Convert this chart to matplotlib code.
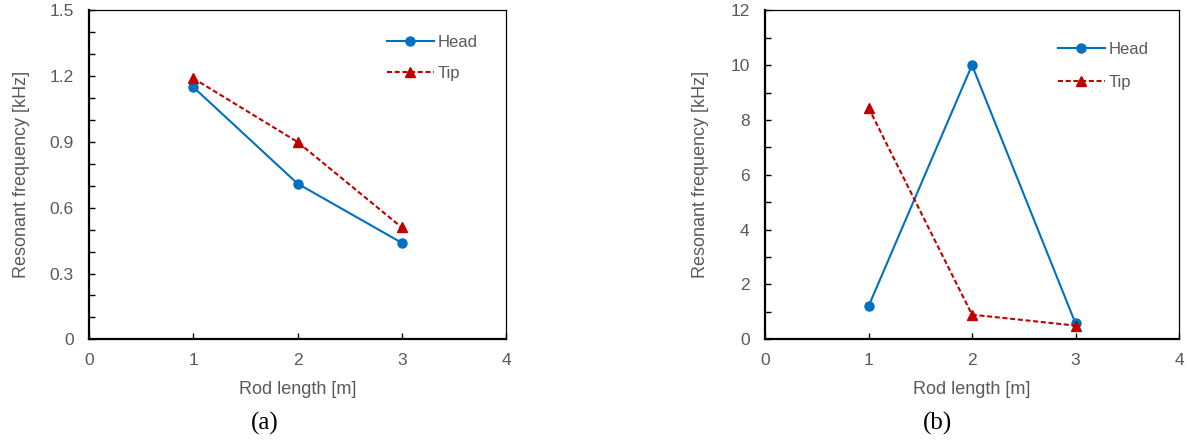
import matplotlib.pyplot as plt
from matplotlib.ticker import MultipleLocator

# Rod lengths [m]
rod_length = [1, 2, 3]

# (a) resonant frequencies [kHz]
head_a = [1.15, 0.71, 0.44]
tip_a = [1.19, 0.90, 0.51]

# (b) resonant frequencies [kHz]
head_b = [1.2, 10.0, 0.58]
tip_b = [8.45, 0.9, 0.5]

blue = "#0070C0"
red = "#C00000"
grey = "#595959"

plt.rcParams["font.family"] = ["Liberation Sans", "DejaVu Sans"]

W, H = 1188, 441
fig = plt.figure(figsize=(W / 100, H / 100), dpi=100)


def px_axes(left, right, top, bottom):
    return fig.add_axes([left / W, 1 - bottom / H, (right - left) / W, (bottom - top) / H])


def setup(ax, head, tip, ymax, ystep, yminor, fmt, leg_xy, spacing, ylab_pad, tag, tag_x):
    ax.plot(rod_length, head, color=blue, lw=1.5, marker="o", ms=6.5, label="Head")
    ax.plot(rod_length, tip, color=red, lw=1.5, ls=(0, (2.4, 1.3)), marker="^", ms=7,
            label="Tip")
    ax.set_xlim(0, 4)
    ax.set_ylim(0, ymax)
    ax.xaxis.set_major_locator(MultipleLocator(1))
    ax.yaxis.set_major_locator(MultipleLocator(ystep))
    ax.yaxis.set_minor_locator(MultipleLocator(yminor))
    ax.yaxis.set_major_formatter(plt.FuncFormatter(lambda v, p: fmt(v)))
    ax.tick_params(axis="both", which="both", direction="in", length=4, width=1,
                   colors="black", labelcolor=grey, labelsize=12.5)
    ax.tick_params(axis="x", which="both", top=False, pad=10)
    ax.tick_params(axis="y", which="both", right=False, pad=11)
    for side in ("left", "bottom"):
        ax.spines[side].set_linewidth(1.6)
    for side in ("top", "right"):
        ax.spines[side].set_linewidth(0.9)
    ax.set_xlabel("Rod length [m]", color=grey, fontsize=13, labelpad=9)
    ax.set_ylabel("Resonant frequency [kHz]", color=grey, fontsize=13, labelpad=ylab_pad)
    ax.legend(loc="upper left", bbox_to_anchor=leg_xy, frameon=False, borderpad=0,
              borderaxespad=0, handlelength=2.8, handletextpad=0.25, labelspacing=spacing,
              labelcolor=grey, fontsize=12)
    fig.text(tag_x / W, 1 - 423 / H, tag, family=["Liberation Serif", "DejaVu Serif"],
             fontsize=18, ha="center", va="center", color="black")


ax1 = px_axes(89, 506, 10.3, 339.3)
setup(ax1, head_a, tip_a, 1.5, 0.3, 0.1,
      lambda v: "0" if abs(v) < 1e-9 else f"{v:.1f}",
      (0.715, 0.924), 0.95, 14, "(a)", 265)

ax2 = px_axes(765, 1179, 10.3, 339.3)
setup(ax2, head_b, tip_b, 12, 2, 1,
      lambda v: f"{v:.0f}",
      (0.708, 0.905), 1.08, 15.5, "(b)", 938)

fig.savefig("out.png", dpi=100)
